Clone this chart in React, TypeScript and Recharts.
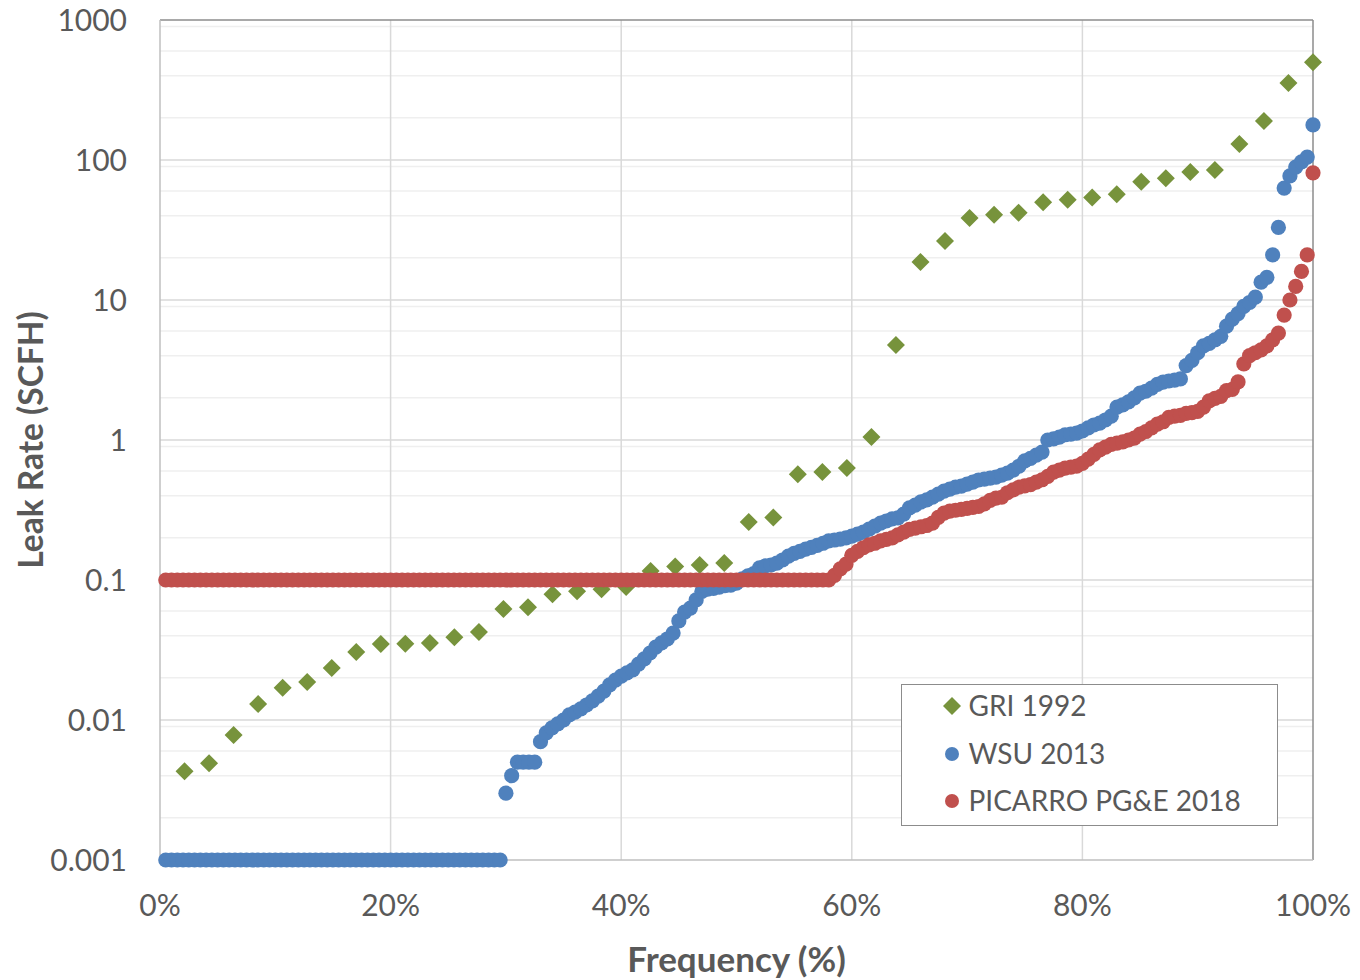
import React from 'react';
import { ScatterChart, Scatter, XAxis, YAxis, CartesianGrid, ReferenceLine, Legend } from 'recharts';

const FONT = 'Lato, "Open Sans", sans-serif';
const TEXT = '#595959';

// Axis ticks
const xTicks = [0, 20, 40, 60, 80, 100];
const xGridValues = [20, 40, 60, 80];
const yTicks = [0.001, 0.01, 0.1, 1, 10, 100, 1000];
const yMajorGrid = [0.01, 0.1, 1, 10, 100];
const yMinorGrid = [
  0.002, 0.003, 0.004, 0.005, 0.006, 0.007, 0.008, 0.009,
  0.02, 0.03, 0.04, 0.05, 0.06, 0.07, 0.08, 0.09,
  0.2, 0.3, 0.4, 0.5, 0.6, 0.7, 0.8, 0.9,
  2, 3, 4, 5, 6, 7, 8, 9,
  20, 30, 40, 50, 60, 70, 80, 90,
  200, 300, 400, 500, 600, 700, 800, 900,
];

// Series names / colours
const seriesNames = ['GRI 1992', 'WSU 2013', 'PICARRO PG&E 2018'];
const seriesColors = ['#77933C', '#4F81BD', '#C0504D'];

// GRI 1992 leak rates (SCFH), sorted ascending
const griValues = [
  0.0043, 0.0049, 0.0078, 0.013, 0.017, 0.0187, 0.0235, 0.0306, 0.0349, 0.035,
  0.0355, 0.039, 0.0425, 0.062, 0.064, 0.079, 0.083, 0.086, 0.089, 0.116,
  0.125, 0.128, 0.132, 0.26, 0.28, 0.57, 0.59, 0.63, 1.05, 4.77,
  18.7, 26.4, 38.5, 40.7, 42, 50, 52, 54, 57, 70,
  74, 82, 85, 130, 190, 355, 500,
];

// WSU 2013 leak rates (SCFH), sorted ascending
const wsuValues = [
  0.001, 0.001, 0.001, 0.001, 0.001, 0.001, 0.001, 0.001, 0.001, 0.001,
  0.001, 0.001, 0.001, 0.001, 0.001, 0.001, 0.001, 0.001, 0.001, 0.001,
  0.001, 0.001, 0.001, 0.001, 0.001, 0.001, 0.001, 0.001, 0.001, 0.001,
  0.001, 0.001, 0.001, 0.001, 0.001, 0.001, 0.001, 0.001, 0.001, 0.001,
  0.001, 0.001, 0.001, 0.001, 0.001, 0.001, 0.001, 0.001, 0.001, 0.001,
  0.001, 0.001, 0.001, 0.001, 0.001, 0.001, 0.001, 0.001, 0.001,
  0.003, 0.004, 0.005, 0.005, 0.005, 0.005, 0.007, 0.0081, 0.0088, 0.0094,
  0.01, 0.0109, 0.0114, 0.012, 0.0128, 0.0137, 0.0148, 0.0161, 0.0178, 0.0193,
  0.0206, 0.0217, 0.0228, 0.0251, 0.0273, 0.0301, 0.0332, 0.0355, 0.0379, 0.0418,
  0.051, 0.059, 0.063, 0.072, 0.083, 0.086, 0.087, 0.089, 0.091, 0.092,
  0.095, 0.102, 0.107, 0.111, 0.122, 0.126, 0.128, 0.132, 0.139, 0.148,
  0.155, 0.16, 0.166, 0.171, 0.177, 0.183, 0.19, 0.193, 0.196, 0.2,
  0.206, 0.213, 0.22, 0.231, 0.243, 0.255, 0.264, 0.273, 0.278, 0.296,
  0.327, 0.343, 0.361, 0.373, 0.391, 0.41, 0.432, 0.446, 0.46, 0.468,
  0.484, 0.5, 0.518, 0.526, 0.535, 0.543, 0.561, 0.58, 0.61, 0.65,
  0.71, 0.74, 0.78, 0.82, 1.0, 1.02, 1.05, 1.09, 1.1, 1.12,
  1.16, 1.22, 1.28, 1.32, 1.39, 1.48, 1.72, 1.78, 1.87, 2.0,
  2.16, 2.23, 2.35, 2.5, 2.59, 2.64, 2.68, 2.73, 3.4, 3.7,
  4.2, 4.7, 4.9, 5.2, 5.5, 6.5, 7.3, 8.0, 9.0, 9.6,
  10.5, 13.4, 14.5, 21, 33, 63, 77, 89, 97, 105,
  178,
];

// PICARRO PG&E 2018 leak rates (SCFH), sorted ascending
const picarroValues = [
  0.1, 0.1, 0.1, 0.1, 0.1, 0.1, 0.1, 0.1, 0.1, 0.1,
  0.1, 0.1, 0.1, 0.1, 0.1, 0.1, 0.1, 0.1, 0.1, 0.1,
  0.1, 0.1, 0.1, 0.1, 0.1, 0.1, 0.1, 0.1, 0.1, 0.1,
  0.1, 0.1, 0.1, 0.1, 0.1, 0.1, 0.1, 0.1, 0.1, 0.1,
  0.1, 0.1, 0.1, 0.1, 0.1, 0.1, 0.1, 0.1, 0.1, 0.1,
  0.1, 0.1, 0.1, 0.1, 0.1, 0.1, 0.1, 0.1, 0.1, 0.1,
  0.1, 0.1, 0.1, 0.1, 0.1, 0.1, 0.1, 0.1, 0.1, 0.1,
  0.1, 0.1, 0.1, 0.1, 0.1, 0.1, 0.1, 0.1, 0.1, 0.1,
  0.1, 0.1, 0.1, 0.1, 0.1, 0.1, 0.1, 0.1, 0.1, 0.1,
  0.1, 0.1, 0.1, 0.1, 0.1, 0.1, 0.1, 0.1, 0.1, 0.1,
  0.1, 0.1, 0.1, 0.1, 0.1, 0.1, 0.1, 0.1, 0.1, 0.1,
  0.1, 0.1, 0.1, 0.1, 0.1, 0.1,
  0.108, 0.12, 0.13,
  0.15, 0.16, 0.17, 0.178, 0.183, 0.19, 0.195, 0.2, 0.21, 0.22,
  0.23, 0.235, 0.24, 0.245, 0.255, 0.28, 0.3, 0.31, 0.315, 0.32,
  0.325, 0.33, 0.335, 0.35, 0.37, 0.385, 0.39, 0.42, 0.44, 0.46,
  0.47, 0.48, 0.5, 0.52, 0.55, 0.59, 0.61, 0.63, 0.64, 0.65,
  0.68, 0.73, 0.79, 0.85, 0.89, 0.93, 0.95, 0.97, 1.0, 1.03,
  1.1, 1.15, 1.22, 1.3, 1.35, 1.45, 1.48, 1.5, 1.55, 1.57,
  1.6, 1.72, 1.9, 1.98, 2.05, 2.25, 2.3, 2.6, 3.5, 4.0,
  4.2, 4.4, 4.7, 5.2, 5.8, 7.8, 10, 12.5, 16, 21,
  81,
];

// cumulative frequency (%) of each sorted value
const toFreq = (vals: number[]) => vals.map((v, i) => ({ x: ((i + 1) / vals.length) * 100, y: v }));
const griData = toFreq(griValues);
const wsuData = toFreq(wsuValues);
const picarroData = toFreq(picarroValues);

const Diamond = (props: any) => {
  const { cx, cy } = props;
  if (cx == null || cy == null) return null;
  const r = 9;
  return (
    <polygon
      points={`${cx},${cy - r} ${cx + r},${cy} ${cx},${cy + r} ${cx - r},${cy}`}
      fill={seriesColors[0]}
    />
  );
};

const makeDot = (color: string) => (props: any) => {
  const { cx, cy } = props;
  if (cx == null || cy == null) return null;
  return <circle cx={cx} cy={cy} r={7.6} fill={color} />;
};
const BlueDot = makeDot(seriesColors[1]);
const RedDot = makeDot(seriesColors[2]);

const LegendBox = () => {
  const rowsY = [22, 70, 117];
  return (
    <div
      style={{
        position: 'relative',
        width: 377,
        height: 142,
        boxSizing: 'border-box',
        border: '1.5px solid #8C8C8C',
        background: '#fff',
        fontFamily: FONT,
      }}
    >
      {seriesNames.map((name, i) => (
        <div key={name}>
          <svg
            width={20}
            height={20}
            style={{ position: 'absolute', left: 51 - 10 - 1.5, top: rowsY[i] - 10 - 1.5 }}
          >
            {i === 0 ? (
              <polygon points="10,1 19,10 10,19 1,10" fill={seriesColors[0]} />
            ) : (
              <circle cx={10} cy={10} r={7} fill={seriesColors[i]} />
            )}
          </svg>
          <div
            style={{
              position: 'absolute',
              left: 68 - 1.5,
              top: rowsY[i] - 15 - 1.5,
              height: 28,
              lineHeight: '28px',
              fontSize: 28,
              color: TEXT,
              whiteSpace: 'nowrap',
            }}
          >
            {name}
          </div>
        </div>
      ))}
    </div>
  );
};

export default function App() {
  return (
    <div style={{ position: 'absolute', left: 0, top: 0, width: 1360, height: 980, background: '#fff' }}>
      <ScatterChart width={1360} height={980} margin={{ top: 20, right: 47, left: 0, bottom: 0 }}>
        <CartesianGrid horizontalValues={yMinorGrid} vertical={false} stroke="#EFEFEF" strokeWidth={1.5} />
        <CartesianGrid horizontalValues={yMajorGrid} verticalValues={xGridValues} stroke="#D9D9D9" strokeWidth={1.5} />
        <XAxis
          type="number"
          dataKey="x"
          domain={[0, 100]}
          ticks={xTicks}
          tickFormatter={(v: number) => `${v}%`}
          axisLine={{ stroke: '#BFBFBF', strokeWidth: 1.5 }}
          tickLine={false}
          tickSize={0}
          tickMargin={35}
          height={120}
          tick={{ fill: TEXT, fontSize: 30, fontFamily: FONT }}
          label={{
            value: 'Frequency (%)',
            position: 'insideBottom',
            offset: 8,
            style: { fill: TEXT, fontSize: 35, fontWeight: 700, fontFamily: FONT },
          }}
        />
        <YAxis
          type="number"
          dataKey="y"
          scale="log"
          domain={[0.001, 1000]}
          ticks={yTicks}
          tickFormatter={(v: number) => String(v)}
          axisLine={{ stroke: '#BFBFBF', strokeWidth: 1.5 }}
          tickLine={false}
          tickSize={0}
          tickMargin={33}
          width={160}
          tick={{ fill: TEXT, fontSize: 30, fontFamily: FONT }}
          label={{
            value: 'Leak Rate (SCFH)',
            angle: -90,
            position: 'insideLeft',
            offset: 31,
            style: { textAnchor: 'middle', fill: TEXT, fontSize: 33.5, fontWeight: 700, fontFamily: FONT },
          }}
        />
        <ReferenceLine y={1000} stroke="#8C8C8C" strokeWidth={1.5} />
        <ReferenceLine x={100} stroke="#8C8C8C" strokeWidth={1.5} />
        <Scatter name={seriesNames[0]} data={griData} fill={seriesColors[0]} shape={Diamond} isAnimationActive={false} />
        <Scatter name={seriesNames[1]} data={wsuData} fill={seriesColors[1]} shape={BlueDot} isAnimationActive={false} />
        <Scatter name={seriesNames[2]} data={picarroData} fill={seriesColors[2]} shape={RedDot} isAnimationActive={false} />
        <Legend
          layout="vertical"
          align="center"
          verticalAlign="middle"
          content={() => <LegendBox />}
          wrapperStyle={{ left: 901, top: 684, width: 377, height: 142 }}
        />
      </ScatterChart>
    </div>
  );
}
